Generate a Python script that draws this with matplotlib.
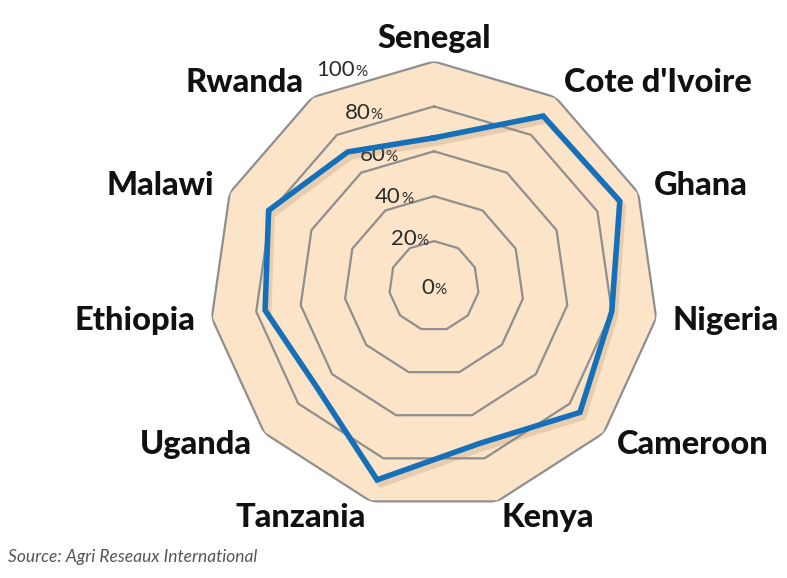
import numpy as np
import matplotlib.pyplot as plt
import matplotlib.patheffects as pe

countries = ["Senegal", "Cote d'Ivoire", "Ghana", "Nigeria", "Cameroon", "Kenya",
             "Tanzania", "Uganda", "Ethiopia", "Malawi", "Rwanda"]
share = [66, 90, 91, 80, 86, 73, 90, 69, 76, 81, 71]
rings = [20, 40, 60, 80, 100]
ring_ticks = [0, 20, 40, 60, 80, 100]

peach = "#fce4c9"
grid_col = "#8f8f8f"
blue = "#1670b9"

fig = plt.figure(figsize=(7.87, 5.78), dpi=100)
ax = fig.add_axes([0.2662, 0.1168, 0.5705, 0.7768], projection="polar")
ax.set_theta_offset(np.pi / 2)
ax.set_theta_direction(-1)

n = len(countries)
angles = np.linspace(0, 2 * np.pi, n, endpoint=False)
closed = np.append(angles, angles[0])

# background polygon + grid rings
ax.fill(closed, [100] * (n + 1), color=peach, zorder=1, lw=0)
for r in rings:
    ax.plot(closed, [r] * (n + 1), color=grid_col, lw=1.6, zorder=2)

vals = share + share[:1]
ax.plot(closed, vals, color=blue, lw=4, zorder=4, solid_joinstyle="miter",
        path_effects=[pe.SimpleLineShadow(offset=(2.5, -3.5), shadow_color="#a57a50", alpha=0.22),
                      pe.Normal()])

ax.set_ylim(0, 100)
ax.axis("off")

# country labels
for ang, name in zip(angles, countries):
    x = np.sin(ang)
    if abs(x) < 0.1:
        ax.text(ang, 104, name, ha="center", va="bottom", fontsize=23.5,
                fontweight="black", family="Lato", color="#111111")
    else:
        ha = "left" if x > 0 else "right"
        ax.text(ang, 107.5, name, ha=ha, va="center", fontsize=23.5,
                fontweight="black", family="Lato", color="#111111")

# radial tick labels
tick_theta = np.deg2rad(-20)
for v in ring_ticks:
    r = v + 3 if v else 0
    ax.annotate(str(v), (tick_theta, r), xytext=(0, -5.5), textcoords="offset points",
                ha="right", va="baseline", fontsize=16, family="Lato", color="#2b2b2b",
                annotation_clip=False)
    ax.annotate("%", (tick_theta, r), xytext=(0, -5.5), textcoords="offset points",
                ha="left", va="baseline", fontsize=11, family="Lato", color="#2b2b2b",
                annotation_clip=False)

fig.text(0.01, 0.036, "Source: Agri Reseaux International", ha="left", va="center",
         fontsize=12.5, style="italic", family="Lato", color="#555555")

fig.savefig("out.png", dpi=100)
